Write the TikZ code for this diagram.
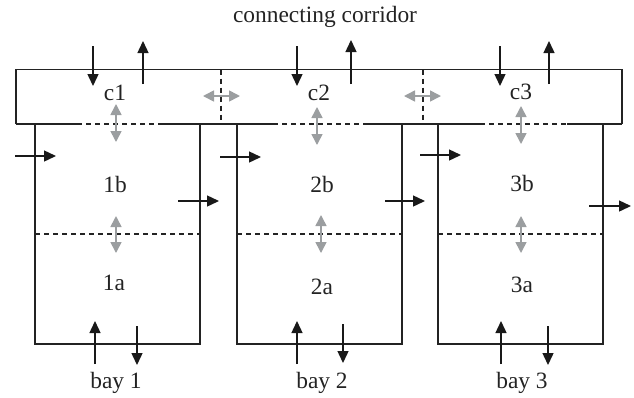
\documentclass[tikz,border=0pt]{standalone}
\usepackage{fontspec}
\setmainfont{Liberation Serif}
\usetikzlibrary{arrows.meta}
\definecolor{ink}{RGB}{35,35,35}
\definecolor{flowgray}{RGB}{155,158,160}
\tikzset{
  wall/.style={draw=ink, line width=1.2bp},
  partition/.style={draw=ink, line width=1.1bp, dash pattern=on 5bp off 4bp},
  flow/.style={draw=black!90, line width=1.4bp, -{Triangle[length=12bp,width=11bp]}},
  mix/.style={draw=flowgray, line width=1.6bp, {Triangle[length=11bp,width=11bp]}-{Triangle[length=11bp,width=11bp]}},
  lbl/.style={text=ink, font=\fontsize{23.5}{27}\selectfont, inner sep=0pt}
}
\begin{document}
\begin{tikzpicture}[x=1bp, y=-1bp]
\useasboundingbox (0,0) rectangle (634,397);
% corridor
\draw[wall] (16,124) -- (16,69.5) -- (622,69.5) -- (622,124);
\draw[partition] (221,69.5) -- (221,124);
\draw[partition] (423,69.5) -- (423,124);
% corridor bottom (solid + openings)
\draw[wall] (16,124) -- (77,124);
\draw[partition] (77,124) -- (163,124);
\draw[wall] (163,124) -- (273,124);
\draw[partition] (273,124) -- (363,124);
\draw[wall] (363,124) -- (480,124);
\draw[partition] (480,124) -- (567,124);
\draw[wall] (567,124) -- (622,124);
% bays
\foreach \l/\r in {35/200, 237/402, 438/603}{
  \draw[wall] (\l,124) -- (\l,344) -- (\r,344) -- (\r,124);
  \draw[partition] (\l,234) -- (\r,234);
}
% labels
\node[lbl] (top) at (325,17) {connecting corridor};
\node[lbl] (c1) at (115,93) {c1};
\node[lbl] (c2) at (319,93) {c2};
\node[lbl] (c3) at (521,92) {c3};
\node[lbl] (b1) at (115,184) {1b};
\node[lbl] (b2) at (322,184) {2b};
\node[lbl] (b3) at (522,183) {3b};
\node[lbl] (a1) at (114,283) {1a};
\node[lbl] (a2) at (322,287) {2a};
\node[lbl] (a3) at (522,285) {3a};
\node[lbl] (bay1) at (116,383) {bay 1};
\node[lbl] (bay2) at (322,383) {bay 2};
\node[lbl] (bay3) at (522,383) {bay 3};
% corridor flows
\draw[flow] (93,46) -- (93,86);
\draw[flow] (143,84) -- (143,41);
\draw[flow] (297,46) -- (297,86);
\draw[flow] (351,84) -- (351,40);
\draw[flow] (500,46) -- (500,86);
\draw[flow] (549,84) -- (549,41);
% side flows
\draw[flow] (15,156) -- (56,156);
\draw[flow] (178,201) -- (219,201);
\draw[flow] (220,157) -- (261,157);
\draw[flow] (385,201) -- (425,201);
\draw[flow] (420,155) -- (461,155);
\draw[flow] (589,206) -- (631,206);
% bottom flows
\draw[flow] (95,364) -- (95,321);
\draw[flow] (137,326) -- (137,365);
\draw[flow] (297,364) -- (297,321);
\draw[flow] (343,324) -- (343,363);
\draw[flow] (501,364) -- (501,321);
\draw[flow] (548,326) -- (548,365);
% mixing (gray)
\draw[mix] (203,96) -- (240,96);
\draw[mix] (404,96) -- (441,96);
\draw[mix] (116,104) -- (116,142);
\draw[mix] (317,107) -- (317,145);
\draw[mix] (521,106) -- (521,144);
\draw[mix] (116,216) -- (116,253);
\draw[mix] (321,215) -- (321,253);
\draw[mix] (521,216) -- (521,253);
\end{tikzpicture}
\end{document}
